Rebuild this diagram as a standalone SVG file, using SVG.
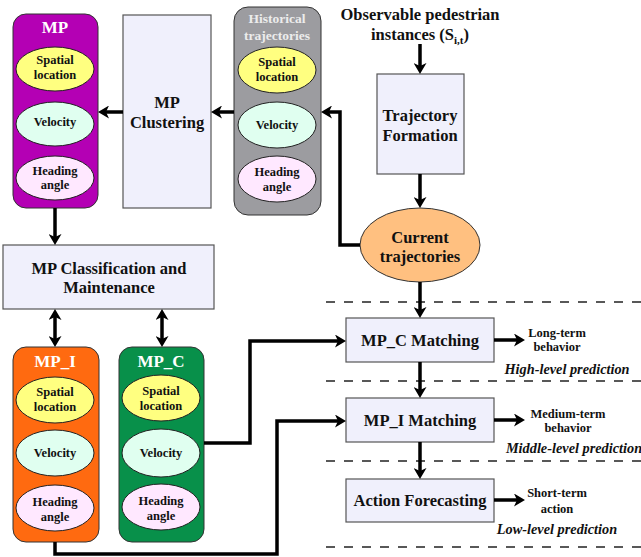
<svg xmlns="http://www.w3.org/2000/svg" width="641" height="557" viewBox="0 0 641 557" font-family="'Liberation Serif', 'DejaVu Serif', serif">
<defs>
<marker id="ah" viewBox="0 0 11 13" markerWidth="11" markerHeight="13" refX="7" refY="6.5" orient="auto-start-reverse" markerUnits="userSpaceOnUse">
<path d="M0,0 L11,6.5 L0,13 L3,6.5 Z" fill="#000"/>
</marker>
</defs>
<style>
text{font-family:'Liberation Serif','DejaVu Serif',serif;font-weight:bold;text-anchor:middle;fill:#111}
.box{fill:#f0f0fc;stroke:#555;stroke-width:1.2}
.sp{fill:#ffff80;stroke:#222;stroke-width:1}
.ve{fill:#e0fff0;stroke:#222;stroke-width:1}
.he{fill:#ffe8ff;stroke:#222;stroke-width:1}
.el{font-size:12.5px}
.big{font-size:16.5px}
.ttl{font-size:17px;fill:#fff}
.lab{font-size:12.5px}
.it{font-size:14.3px;font-style:italic}
.c{fill:none;stroke:#000;stroke-width:3.5}
.a{marker-end:url(#ah)}
.d{marker-start:url(#ah);marker-end:url(#ah)}
.dash{fill:none;stroke:#222;stroke-width:1.5;stroke-dasharray:9 9}
</style>

<g id="dashes">
<line class="dash" x1="326" y1="302" x2="641" y2="302"/>
<line class="dash" x1="326" y1="381" x2="641" y2="381"/>
<line class="dash" x1="326" y1="461" x2="641" y2="461"/>
<line class="dash" x1="326" y1="547" x2="641" y2="547"/>
</g>

<g id="mp">
<rect x="13" y="14" width="85" height="194" rx="13" fill="#b400b4" stroke="#333" stroke-width="1"/>
<text class="ttl" x="55" y="33">MP</text>
<ellipse class="sp" cx="55" cy="69" rx="39" ry="22"/>
<text class="el" x="55" y="64">Spatial</text><text class="el" x="55" y="79">location</text>
<ellipse class="ve" cx="55" cy="124" rx="39" ry="22"/>
<text class="el" x="55" y="126">Velocity</text>
<ellipse class="he" cx="55" cy="178" rx="39" ry="22"/>
<text class="el" x="55" y="175">Heading</text><text class="el" x="55" y="189">angle</text>
</g>

<g id="clustering">
<rect class="box" x="123" y="15" width="88" height="193"/>
<text class="big" x="167" y="108">MP</text>
<text class="big" x="167" y="128">Clustering</text>
</g>

<g id="historical">
<rect x="234" y="7" width="87" height="208" rx="14" fill="#9c9ca0" stroke="#333" stroke-width="1"/>
<text x="277" y="23" style="font-size:13.5px;fill:#ececec">Historical</text>
<text x="277" y="40" style="font-size:13.5px;fill:#ececec">trajectories</text>
<ellipse class="sp" cx="277" cy="70" rx="39" ry="23"/>
<text class="el" x="277" y="66">Spatial</text><text class="el" x="277" y="81">location</text>
<ellipse class="ve" cx="277" cy="125" rx="39" ry="23"/>
<text class="el" x="277" y="129">Velocity</text>
<ellipse class="he" cx="277" cy="179" rx="39" ry="23"/>
<text class="el" x="277" y="176">Heading</text><text class="el" x="277" y="191">angle</text>
</g>

<g id="observable">
<text class="big" x="420" y="20">Observable pedestrian</text>
<text class="big" x="420" y="40">instances (S<tspan font-size="11" dy="4">i,t</tspan><tspan dy="-4">)</tspan></text>
</g>

<g id="formation">
<rect class="box" x="377" y="74" width="87" height="100"/>
<text class="big" x="420" y="121">Trajectory</text>
<text class="big" x="420" y="141">Formation</text>
</g>

<g id="current">
<ellipse cx="420" cy="245" rx="60" ry="37" fill="#ffc080" stroke="#333" stroke-width="1"/>
<text class="big" x="420" y="243">Current</text>
<text class="big" x="420" y="262">trajectories</text>
</g>

<g id="classification">
<rect class="box" x="3" y="245" width="211" height="64"/>
<text class="big" x="109" y="274">MP Classification and</text>
<text class="big" x="109" y="293">Maintenance</text>
</g>

<g id="mpi">
<rect x="13" y="347" width="86" height="195" rx="13" fill="#ff6a10" stroke="#333" stroke-width="1"/>
<text class="ttl" x="55" y="367">MP_I</text>
<ellipse class="sp" cx="55" cy="400" rx="39" ry="23"/>
<text class="el" x="55" y="396">Spatial</text><text class="el" x="55" y="411">location</text>
<ellipse class="ve" cx="55" cy="453" rx="39" ry="23"/>
<text class="el" x="55" y="457">Velocity</text>
<ellipse class="he" cx="55" cy="508" rx="39" ry="23"/>
<text class="el" x="55" y="506">Heading</text><text class="el" x="55" y="521">angle</text>
</g>

<g id="mpc">
<rect x="119" y="347" width="85" height="195" rx="13" fill="#08904a" stroke="#333" stroke-width="1"/>
<text class="ttl" x="161" y="367">MP_C</text>
<ellipse class="sp" cx="161" cy="398" rx="39" ry="23"/>
<text class="el" x="161" y="395">Spatial</text><text class="el" x="161" y="410">location</text>
<ellipse class="ve" cx="161" cy="453" rx="39" ry="24"/>
<text class="el" x="161" y="457">Velocity</text>
<ellipse class="he" cx="161" cy="507" rx="39" ry="23"/>
<text class="el" x="161" y="505">Heading</text><text class="el" x="161" y="520">angle</text>
</g>

<g id="mpcmatch">
<rect class="box" x="346" y="318" width="148" height="44"/>
<text class="big" x="420" y="346">MP_C Matching</text>
</g>
<g id="mpimatch">
<rect class="box" x="346" y="398" width="148" height="44"/>
<text class="big" x="420" y="426">MP_I Matching</text>
</g>
<g id="action">
<rect class="box" x="346" y="479" width="148" height="43"/>
<text class="big" x="420" y="506">Action Forecasting</text>
</g>

<g id="outputs">
<text class="lab" x="557" y="337">Long-term</text>
<text class="lab" x="557" y="351">behavior</text>
<text class="it" x="567" y="374">High-level prediction</text>
<text class="lab" x="568" y="418">Medium-term</text>
<text class="lab" x="568" y="432">behavior</text>
<text class="it" x="574" y="453">Middle-level prediction</text>
<text class="lab" x="557" y="497">Short-term</text>
<text class="lab" x="557" y="513">action</text>
<text class="it" x="557" y="534">Low-level prediction</text>
</g>

<g id="connectors">
<line class="c a" x1="234" y1="112" x2="215" y2="112"/>
<line class="c a" x1="123" y1="112" x2="102" y2="112"/>
<polyline class="c a" points="360,245 340,245 340,112 325,112"/>
<line class="c a" x1="420" y1="44" x2="420" y2="70"/>
<line class="c a" x1="420" y1="174" x2="420" y2="204"/>
<line class="c a" x1="420" y1="282" x2="420" y2="314"/>
<line class="c a" x1="420" y1="362" x2="420" y2="394"/>
<line class="c a" x1="420" y1="442" x2="420" y2="475"/>
<line class="c a" x1="55" y1="208" x2="55" y2="241"/>
<line class="c d" x1="55" y1="313" x2="55" y2="343"/>
<line class="c d" x1="162" y1="313" x2="162" y2="343"/>
<polyline class="c a" points="204,443 250,443 250,341 342,341"/>
<polyline class="c a" points="55,542 55,554 277,554 277,421 342,421"/>
<line class="c a" x1="494" y1="340" x2="521" y2="340"/>
<line class="c a" x1="494" y1="420" x2="521" y2="420"/>
<line class="c a" x1="494" y1="500" x2="521" y2="500"/>
</g>
</svg>
